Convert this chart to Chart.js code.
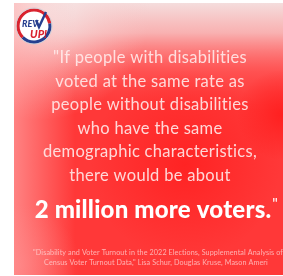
<!DOCTYPE html>
<html>
<head>
<meta charset="utf-8">
<script src="https://cdn.jsdelivr.net/npm/chart.js@4.4.0/dist/chart.umd.min.js"></script>
<style>
  html, body { margin: 0; padding: 0; background: #fff; overflow: hidden; }
  #wrap { width: 283px; height: 276px; }
</style>
</head>
<body>
<div id="wrap"><canvas id="card" width="283" height="276"></canvas></div>
<script>
// Card text
const quoteLines = [
  '"If people with disabilities',
  'voted at the same rate as',
  'people without disabilities',
  'who have the same',
  'demographic characteristics,',
  'there would be about'
];
const highlightLine = ['2 million more voters.', '"'];
const sourceLines = [
  '"Disability and Voter Turnout in the 2022 Elections, Supplemental Analysis of',
  'Census Voter Turnout Data," Lisa Schur, Douglas Kruse, Mason Ameri'
];
const logoWords = ['REV', 'UP!'];

const FONT = 'Lato, "Open Sans", sans-serif';

function radial(ctx, x, y, r, inner, outer) {
  const g = ctx.createRadialGradient(x, y, 0, x, y, r);
  g.addColorStop(0, inner);
  g.addColorStop(1, outer);
  ctx.fillStyle = g;
  ctx.fillRect(0, 0, 283, 276);
}

const cardPlugin = {
  id: 'card',
  beforeDraw(chart) {
    const ctx = chart.ctx;
    ctx.save();
    ctx.fillStyle = '#fff';
    ctx.fillRect(0, 0, chart.width, chart.height);
    ctx.beginPath();
    ctx.rect(14, 3, 269, 272);
    ctx.clip();

    ctx.fillStyle = '#ff3838';
    ctx.fillRect(0, 0, 283, 276);
    // pale band along the top
    const tg = ctx.createLinearGradient(0, 0, 0, 110);
    tg.addColorStop(0, 'rgba(244,226,226,1)');
    tg.addColorStop(0.3, 'rgba(248,190,190,0.9)');
    tg.addColorStop(0.65, 'rgba(255,120,120,0.4)');
    tg.addColorStop(1, 'rgba(255,80,80,0)');
    ctx.fillStyle = tg;
    ctx.fillRect(0, 0, 283, 276);
    radial(ctx, 40, 10, 110, 'rgba(245,238,238,0.9)', 'rgba(250,200,200,0)');
    // lighter left edge
    const lg = ctx.createLinearGradient(14, 0, 75, 0);
    lg.addColorStop(0, 'rgba(255,180,180,0.6)');
    lg.addColorStop(1, 'rgba(255,180,180,0)');
    ctx.fillStyle = lg;
    ctx.fillRect(0, 0, 283, 276);
    // deep red spots
    radial(ctx, 185, 165, 95, 'rgba(255,28,28,0.75)', 'rgba(255,28,28,0)');
    radial(ctx, 282, 115, 45, 'rgba(255,22,22,0.7)', 'rgba(255,22,22,0)');
    radial(ctx, 20, 265, 60, 'rgba(255,150,150,0.4)', 'rgba(255,150,150,0)');
    ctx.restore();
  },
  afterDraw(chart) {
    const ctx = chart.ctx;
    const cx = 150;
    ctx.save();
    ctx.textAlign = 'center';
    ctx.textBaseline = 'alphabetic';

    // quote
    ctx.fillStyle = 'rgba(255,234,234,0.9)';
    ctx.font = '16.5px ' + FONT;
    ctx.letterSpacing = '0.3px';
    quoteLines.forEach((t, i) => ctx.fillText(t, cx, 63 + i * 23.6));

    // highlight
    ctx.fillStyle = '#fff';
    ctx.font = '900 24px ' + FONT;
    ctx.letterSpacing = '0.2px';
    const w = ctx.measureText(highlightLine[0]).width;
    ctx.fillText(highlightLine[0], 153, 218);
    ctx.font = '15px ' + FONT;
    ctx.textAlign = 'left';
    ctx.fillText(highlightLine[1], 153 + w / 2 + 1, 209);

    // source
    ctx.textAlign = 'center';
    ctx.fillStyle = 'rgba(255,215,215,0.75)';
    ctx.font = '7.2px ' + FONT;
    ctx.letterSpacing = '0.1px';
    ctx.fillText(sourceLines[0], 158, 255);
    ctx.fillText(sourceLines[1], 156, 265);

    // logo
    const lx = 34, ly = 26;
    ctx.beginPath();
    ctx.arc(lx, ly, 18, 0, Math.PI * 2);
    ctx.fillStyle = '#fff';
    ctx.fill();
    ctx.lineWidth = 3.2;
    ctx.beginPath();
    ctx.arc(lx, ly, 16, Math.PI * 0.75, Math.PI * 1.95);
    ctx.strokeStyle = '#d9232e';
    ctx.stroke();
    ctx.beginPath();
    ctx.arc(lx, ly, 16, Math.PI * 1.95, Math.PI * 2.75);
    ctx.strokeStyle = '#263f8f';
    ctx.stroke();
    ctx.beginPath();
    ctx.arc(lx, ly, 18, 0, Math.PI * 2);
    ctx.lineWidth = 0.8;
    ctx.strokeStyle = '#c8c8d0';
    ctx.stroke();

    ctx.font = 'italic 900 9px ' + FONT;
    ctx.fillStyle = '#263f8f';
    ctx.textAlign = 'left';
    ctx.letterSpacing = '0px';
    ctx.fillText(logoWords[0], 22, 27);
    // check mark
    ctx.beginPath();
    ctx.moveTo(36, 20);
    ctx.lineTo(39, 27);
    ctx.lineTo(46, 12);
    ctx.lineWidth = 2.4;
    ctx.strokeStyle = '#263f8f';
    ctx.stroke();
    ctx.font = 'italic 900 11px ' + FONT;
    ctx.fillStyle = '#d9232e';
    ctx.fillText(logoWords[1], 30, 38);
    ctx.restore();
  }
};

new Chart(document.getElementById('card'), {
  type: 'scatter',
  data: { datasets: [] },
  options: {
    responsive: false,
    animation: false,
    layout: { padding: 0 },
    scales: { x: { display: false }, y: { display: false } },
    plugins: { legend: { display: false }, tooltip: { enabled: false } }
  },
  plugins: [cardPlugin]
});
</script>
</body>
</html>
